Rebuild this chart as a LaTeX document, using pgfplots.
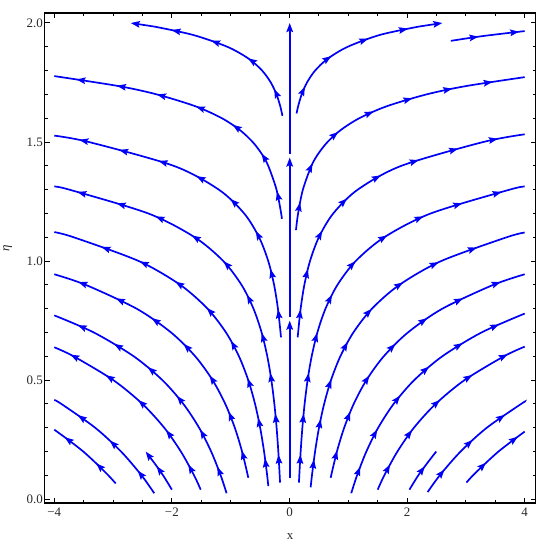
\documentclass[border=0pt]{standalone}
\usepackage{pgfplots}
\pgfplotsset{compat=1.18}
\usepackage{fontspec}
\setmainfont{Liberation Serif}
\usetikzlibrary{decorations.markings, arrows.meta}

\definecolor{flowblue}{RGB}{0,0,245}
\definecolor{tickink}{RGB}{40,40,40}

\tikzset{flowtip/.tip={Stealth[length=9bp, width=6.5bp, inset=1.4bp]}}
\pgfplotsset{
  flow/.style={no markers, smooth, solid, draw=flowblue, line width=1.7bp,
    postaction={decorate},
    decoration={markings,
      mark=between positions 28bp and 0.97 step 41bp with {\arrow{flowtip}}}},
  % a straight piece that carries a head, for lines that stop inside the frame
  seg/.style={no markers, sharp plot, solid, draw=flowblue, line width=1.7bp, -{flowtip}},
}

\begin{document}
\begin{tikzpicture}
\begin{axis}[
  scale only axis, width=491bp, height=490bp,
  xmin=-4.165, xmax=4.185, ymin=-0.016, ymax=2.042,
  xtick={-4,-2,0,2,4}, xticklabels={−4,−2,0,2,4},
  ytick={0,0.5,1,1.5,2}, yticklabels={0.0,0.5,1.0,1.5,2.0},
  minor x tick num=3, minor y tick num=4,
  tick align=inside, major tick length=5bp, minor tick length=3bp,
  tick style={black, line width=1bp},
  axis line style={black, line width=1.3bp},
  tick label style={font=\fontsize{13}{15}\selectfont, text=tickink},
  xticklabel style={yshift=-1.5bp},
  yticklabel style={inner sep=1.5bp},
  xlabel={x}, ylabel={\itshape η},
  label style={font=\fontsize{13}{15}\selectfont, text=tickink},
  xlabel style={at={(axis description cs:0.5,-0.069)}, anchor=center},
  ylabel style={at={(axis description cs:-0.075,0.52)}, anchor=center},
]
% right half, from the outside in
\addplot[flow] coordinates {(3.01,0.07) (3.12,0.1) (3.33,0.15) (3.553,0.2) (3.788,0.245) (4.0,0.284)};
\addplot[flow] coordinates {(2.35,0.03) (2.555,0.1) (2.909,0.2) (3.355,0.3) (3.939,0.4) (4,0.4085)};
\addplot[flow] coordinates {(2.04,0.04) (2.19,0.1) (2.338,0.15) (2.495,0.2)};
\addplot[flow] coordinates {(1.50,0.04) (1.612,0.1) (1.835,0.2) (2.116,0.3) (2.485,0.4) (2.976,0.5) (3.646,0.6) (4,0.6406)};
\addplot[flow] coordinates {(1.05,0.025) (1.149,0.1) (1.307,0.2) (1.508,0.3) (1.771,0.4) (2.121,0.5) (2.598,0.6) (3.264,0.7) (4,0.7796)};
\addplot[flow] coordinates {(0.70,0.09) (0.8065,0.2) (0.930,0.3) (1.092,0.4) (1.308,0.5) (1.603,0.6) (2.013,0.7) (2.599,0.8) (3.464,0.9) (4,0.9447)};
\addplot[flow] coordinates {(0.36,0.05) (0.3822,0.1) (0.435,0.2) (0.5018,0.3) (0.5892,0.4) (0.7057,0.5) (0.8647,0.6) (1.086,0.7) (1.402,0.8) (1.868,0.9) (2.578,1.0) (3.692,1.1) (4,1.12)};
\addplot[flow] coordinates {(0.161,0.07) (0.1668,0.1) (0.1899,0.2) (0.219,0.3) (0.2572,0.4) (0.308,0.5) (0.3774,0.6) (0.474,0.7) (0.612,0.8) (0.8155,0.9) (1.125,1.0) (1.611,1.1) (2.401,1.2) (3.743,1.3) (4,1.313)};
\addplot[flow] coordinates {(0.14,0.68) (0.1469,0.7) (0.1896,0.8) (0.2527,0.9) (0.3487,1.0) (0.4994,1.1) (0.7438,1.2) (1.160,1.3) (1.901,1.4) (3.292,1.5) (4,1.5325)};
\addplot[flow] coordinates {(0.11,1.13) (0.146,1.2) (0.2276,1.3) (0.373,1.4) (0.487,1.45) (0.646,1.5) (0.869,1.55) (1.187,1.6) (1.650,1.65) (2.329,1.7) (3.0,1.735) (4,1.7726)};
\addplot[flow] coordinates {(0.12,1.62) (0.1465,1.65) (0.2068,1.7) (0.2975,1.75) (0.4353,1.8) (0.650,1.85) (0.989,1.9) (1.538,1.95) (2.2,1.985)};
\addplot[seg] coordinates {(2.2,1.985) (2.6,2.0)};
\addplot[flow] coordinates {(2.744,1.925) (3.285,1.945) (4,1.966)};

% left half
\addplot[flow] coordinates {(-2.955,0.066) (-3.08,0.1) (-3.285,0.15) (-3.506,0.2) (-3.739,0.245) (-4,0.292)};
\addplot[flow] coordinates {(-2.30,0.025) (-2.516,0.1) (-2.864,0.2) (-3.304,0.3) (-3.879,0.4) (-4,0.417)};
\addplot[flow] coordinates {(-2.0,0.04) (-2.149,0.1) (-2.292,0.15)};
\addplot[seg] coordinates {(-2.292,0.15) (-2.446,0.2)};
\addplot[flow] coordinates {(-1.51,0.04) (-1.622,0.1) (-1.847,0.2) (-2.130,0.3) (-2.501,0.4) (-2.996,0.5) (-3.671,0.6) (-4,0.638)};
\addplot[flow] coordinates {(-1.07,0.025) (-1.170,0.1) (-1.332,0.2) (-1.537,0.3) (-1.805,0.4) (-2.161,0.5) (-2.648,0.6) (-3.326,0.7) (-4,0.772)};
\addplot[flow] coordinates {(-0.70,0.09) (-0.8065,0.2) (-0.930,0.3) (-1.092,0.4) (-1.308,0.5) (-1.603,0.6) (-2.013,0.7) (-2.599,0.8) (-3.464,0.9) (-4,0.9447)};
\addplot[flow] coordinates {(-0.36,0.055) (-0.3798,0.1) (-0.4323,0.2) (-0.4987,0.3) (-0.5856,0.4) (-0.7014,0.5) (-0.8593,0.6) (-1.0794,0.7) (-1.3935,0.8) (-1.857,0.9) (-2.562,1.0) (-3.669,1.1) (-4,1.1218)};
\addplot[flow] coordinates {(-0.161,0.07) (-0.1668,0.1) (-0.1899,0.2) (-0.219,0.3) (-0.2572,0.4) (-0.308,0.5) (-0.3774,0.6) (-0.474,0.7) (-0.612,0.8) (-0.8155,0.9) (-1.125,1.0) (-1.611,1.1) (-2.401,1.2) (-3.743,1.3) (-4,1.313)};
\addplot[flow] coordinates {(-0.145,0.68) (-0.1521,0.7) (-0.1964,0.8) (-0.2617,0.9) (-0.3611,1.0) (-0.5173,1.1) (-0.7705,1.2) (-1.2013,1.3) (-1.968,1.4) (-3.410,1.5) (-4,1.527)};
\addplot[flow] coordinates {(-0.13,1.177) (-0.1413,1.2) (-0.2203,1.3) (-0.3611,1.4) (-0.4714,1.45) (-0.6255,1.5) (-0.8417,1.55) (-1.149,1.6) (-1.597,1.65) (-2.255,1.7) (-2.905,1.735) (-4,1.777)};
\addplot[flow] coordinates {(-0.12,1.61) (-0.1564,1.65) (-0.2208,1.7) (-0.3176,1.75) (-0.4648,1.8) (-0.6935,1.85) (-1.056,1.9) (-1.642,1.95) (-2.3,1.985)};
\addplot[seg] coordinates {(-2.3,1.985) (-2.70,2.0)};

% the axis of symmetry, three pieces (a touch wider: a bare vertical stroke renders thin)
\addplot[seg, line width=2.3bp] coordinates {(0.004,0.088) (0.004,0.75)};
\addplot[seg, line width=2.3bp] coordinates {(0.004,0.765) (0.004,1.435)};
\addplot[seg, line width=2.3bp] coordinates {(0.004,1.45) (0.004,2.0)};
\end{axis}
\path (current axis.south west) ++(-41bp,-47bp) rectangle ++(542bp,550bp);
\end{tikzpicture}
\end{document}
